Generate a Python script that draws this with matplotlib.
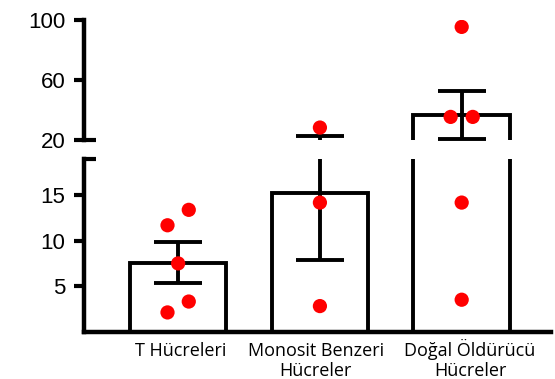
import matplotlib
matplotlib.use("Agg")
import matplotlib.pyplot as plt
import numpy as np

# ---- data ----
categories = ["T Hücreleri", "Monosit Benzeri\nHücreler", "Doğal Öldürücü\nHücreler"]
bar_means = [7.6, 15.3, 36.8]
bar_sems = [2.25, 7.4, 15.9]
t_points = [11.7, 13.4, 7.5, 3.3, 2.1]
mono_points = [28.3, 14.2, 2.8]
nk_points = [95.4, 35.4, 35.4, 14.2, 3.5]
lower_ticks = [5, 10, 15]
upper_ticks = [20, 60, 100]

# jitter offsets for the dots (layout only)
t_offsets = [-0.075, 0.075, 0.0, 0.075, -0.075]
mono_offsets = [0.0, 0.0, 0.0]
nk_offsets = [0.0, -0.078, 0.078, 0.0, 0.0]
# small horizontal shifts of the category labels, in points (layout only)
label_shift = [1.5, -3.0, 6.0]

points = [t_points, mono_points, nk_points]
offsets = [t_offsets, mono_offsets, nk_offsets]

W, H = 555, 379
fig = plt.figure(figsize=(W / 100, H / 100), dpi=100)

left = 84 / W
width = (551 - 84) / W
ax_lo = fig.add_axes([left, (H - 331.5) / H, width, (331.5 - 159) / H])
ax_hi = fig.add_axes([left, (H - 140) / H, width, (140 - 20) / H])

x = np.arange(len(categories))
lw = 2.8
for ax in (ax_lo, ax_hi):
    ax.bar(x, bar_means, width=0.68, fill=False, edgecolor="black", linewidth=lw, zorder=2)
    ax.errorbar(x, bar_means, yerr=bar_sems, fmt="none", ecolor="black",
                elinewidth=lw, capsize=17, capthick=lw, zorder=3)
    for i, (pts, offs) in enumerate(zip(points, offsets)):
        ax.scatter(np.array(offs) + x[i], pts, s=105, color="#ff0000",
                   edgecolors="none", zorder=4)
    ax.set_xlim(-0.664, 2.63)
    ax.set_facecolor("none")
    for s in ("top", "right"):
        ax.spines[s].set_visible(False)
    ax.spines["left"].set_linewidth(3.2)
    ax.spines["bottom"].set_linewidth(3.2)
    ax.tick_params(axis="y", length=7.5, width=3, pad=6, labelsize=16)

ax_lo.set_ylim(0, 19)
ax_lo.set_yticks(lower_ticks)
ax_lo.set_xticks([])

ax_hi.set_ylim(20, 100)
ax_hi.set_yticks(upper_ticks)
ax_hi.spines["bottom"].set_visible(False)
ax_hi.set_xticks([])

for ax in (ax_lo, ax_hi):
    for lab in ax.get_yticklabels():
        lab.set_fontfamily("Liberation Sans")

# category labels, one line at a time so baselines line up
for i, cat in enumerate(categories):
    for j, line in enumerate(cat.split("\n")):
        ax_lo.annotate(line, xy=(x[i], 0), xycoords=("data", "axes fraction"),
                       xytext=(label_shift[i], -17.4 - 14.6 * j), textcoords="offset points",
                       ha="center", va="baseline", fontsize=13, family="Open Sans",
                       annotation_clip=False)

# break marks
ax_hi.plot([0, 0.026], [0, 0], transform=ax_hi.transAxes, color="black",
           linewidth=3, clip_on=False, solid_capstyle="butt")
ax_lo.plot([-0.004, 0.026], [1, 1], transform=ax_lo.transAxes, color="black",
           linewidth=3, clip_on=False, solid_capstyle="butt")

fig.savefig("out.png", dpi=100)
